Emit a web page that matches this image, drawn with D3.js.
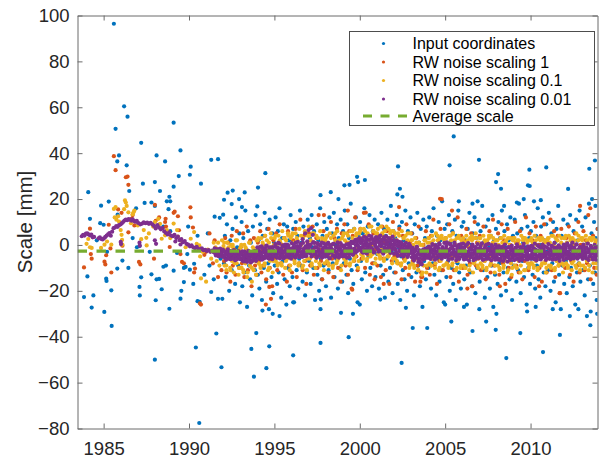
<!DOCTYPE html>
<html>
<head>
<meta charset="utf-8">
<script src="https://cdn.jsdelivr.net/npm/d3@7"></script>
<style>
body { margin: 0; background: #fff; }
text { font-family: "Liberation Sans", Arial, Helvetica, sans-serif; }
</style>
</head>
<body>
<svg id="chart" width="604" height="459"></svg>
<script>
// [decimal year, scale in mm]
var inputCoordinates = [
[1983.85,-22.7],[1984.05,-13.7],[1984.1,23],[1984.2,11.4],[1984.3,-27.3],[1984.4,-22],[1984.6,2],[1984.8,9.5],[1984.85,17.1],[1985.0,8.8],
[1985.04,-29.2],[1985.15,-14.7],[1985.17,-15.7],[1985.2,-3],[1985.3,18.9],[1985.45,-19.8],[1985.47,-35.3],[1985.6,96.4],[1985.7,50.6],[1985.8,36.4],
[1985.8,-10.3],[1985.82,13.2],[1985.9,39],[1986.1,-6.8],[1986.2,60.4],[1986.35,34.7],[1986.4,55.9],[1986.45,-10],[1986.5,23.5],[1986.7,3],
[1986.9,16],[1986.95,-1],[1987.1,-0.5],[1987.1,-18.3],[1987.12,-22],[1987.2,-14.1],[1987.2,44.5],[1987.3,26.7],[1987.4,18.3],[1987.7,-3],
[1987.8,18.5],[1987.8,-12.8],[1988.0,27.4],[1988.0,17],[1988.0,-50],[1988.05,-24.1],[1988.1,39],[1988.1,-15],[1988.25,-14.8],[1988.3,23.5],
[1988.4,-19.3],[1988.5,-9.5],[1988.5,8],[1988.6,36.4],[1988.65,-9],[1988.7,19],[1988.8,15.6],[1988.85,21],[1988.85,-27.8],[1988.9,19],
[1988.9,6],[1989.1,53.3],[1989.1,25.4],[1989.1,-11.2],[1989.3,-3.5],[1989.4,30],[1989.5,41.2],[1989.5,-23.4],[1989.55,-20],[1989.7,-16.2],
[1989.7,-10],[1989.8,-9.6],[1989.9,-4],[1989.95,8],[1990.05,30.6],[1990.05,-10.8],[1990.1,34.1],[1990.25,-17],[1990.3,-8.2],[1990.4,-44.7],
[1990.5,-24.5],[1990.5,4],[1990.6,-77.6],[1990.62,-24.8],[1990.7,26.7],[1990.8,-2],[1990.9,-13],[1991.1,5],[1991.2,-9],[1991.3,37.1],
[1991.3,-20.5],[1991.45,-15],[1991.5,12.3],[1991.6,-38.6],[1991.7,37.4],[1991.7,-23.5],[1991.8,11.8],[1991.85,-6],[1991.9,-53.3],[1991.95,-23.5],
[1992.0,13.2],[1992.05,19.7],[1992.26,22.8],[1992.5,17.8],[1992.56,23.7],[1992.93,20],[1993.1,16.5],[1993.26,22.9],[1993.65,-45.3],[1993.8,-57.4],
[1993.94,-38.4],[1994.0,16.8],[1994.04,25],
[1992.05,-8],[1992.1,4],[1992.15,-14],[1992.22,9],[1992.3,-3],[1992.35,-20],[1992.42,2],[1992.5,-11],[1992.55,7],[1992.62,-5],[1992.7,-17],[1992.75,12],[1992.82,-1],[1992.88,-9],[1992.95,5],[1992.98,-25],
[1993.02,-6],[1993.08,10],[1993.12,-18],[1993.18,3],[1993.24,-12],[1993.3,15],[1993.36,-2],[1993.4,-27],[1993.46,6],[1993.52,-9],[1993.58,-15],[1993.62,1],[1993.7,-22],[1993.74,8],[1993.8,-4],[1993.86,-11],[1993.9,13],[1993.96,-7],
[1994.03,-13],[1994.07,2],[1994.12,-19],[1994.17,9],[1994.22,-5],[1994.27,-24],[1994.32,4],[1994.38,-10],[1994.43,14],[1994.48,-1],[1994.52,-16],[1994.58,7],[1994.63,-8],[1994.68,-28],[1994.72,11],[1994.78,-3],[1994.83,-14],[1994.88,5],[1994.93,-21],[1994.97,1],
[1995.02,-9],[1995.07,12],[1995.11,-4],[1995.16,-17],[1995.2,6],[1995.25,-12],[1995.3,16],[1995.35,-2],[1995.4,-23],[1995.45,3],[1995.5,-7],[1995.55,9],[1995.6,-15],[1995.65,-1],[1995.7,-26],[1995.75,8],[1995.8,-10],[1995.85,2],[1995.9,-18],[1995.95,13],
[1996.02,-5],[1996.06,-14],[1996.1,7],[1996.15,-25],[1996.2,-2],[1996.25,10],[1996.3,-11],[1996.35,4],[1996.4,-19],[1996.45,-6],[1996.5,15],[1996.55,-9],[1996.6,1],[1996.65,-16],[1996.7,8],[1996.75,-3],[1996.8,-22],[1996.85,5],[1996.9,-12],[1996.95,11],
[1997.03,-7],[1997.08,3],[1997.12,-17],[1997.18,13],[1997.22,-1],[1997.28,-10],[1997.32,6],[1997.38,-24],[1997.42,-4],[1997.48,9],[1997.52,-13],[1997.58,2],[1997.62,-20],[1997.68,16],[1997.72,-6],[1997.78,-15],[1997.82,4],[1997.88,-9],[1997.92,10],[1997.97,-2],
[1998.02,-18],[1998.07,7],[1998.12,-5],[1998.17,-11],[1998.22,12],[1998.28,-1],[1998.32,-23],[1998.38,5],[1998.42,-8],[1998.48,14],[1998.52,-14],[1998.57,0],[1998.62,-6],[1998.67,9],[1998.72,-19],[1998.77,3],[1998.82,-10],[1998.88,11],[1998.92,-3],[1998.97,-16],
[1999.02,6],[1999.07,-8],[1999.12,15],[1999.17,-2],[1999.22,-13],[1999.27,9],[1999.32,-21],[1999.37,3],[1999.42,-6],[1999.47,18],[1999.52,-11],[1999.57,1],[1999.62,-17],[1999.67,7],[1999.72,-4],[1999.77,12],[1999.82,-9],[1999.87,-25],[1999.92,4],[1999.97,-1],
[2000.02,10],[2000.07,-7],[2000.12,-15],[2000.17,5],[2000.22,-3],[2000.27,16],[2000.32,-12],[2000.37,1],[2000.42,-20],[2000.47,8],[2000.52,-5],[2000.57,13],[2000.62,-10],[2000.67,-1],[2000.72,-18],[2000.77,6],[2000.82,-8],[2000.87,11],[2000.92,-14],[2000.97,3],
[2001.02,-4],[2001.07,9],[2001.12,-19],[2001.17,2],[2001.22,-9],[2001.27,14],[2001.32,-1],[2001.37,-13],[2001.42,7],[2001.47,-23],[2001.52,4],[2001.57,-6],[2001.62,11],[2001.67,-16],[2001.72,0],[2001.77,-10],[2001.82,17],[2001.87,-3],[2001.92,-21],[2001.97,6],
[2002.02,-12],[2002.07,3],[2002.12,-7],[2002.17,13],[2002.22,-17],[2002.27,-1],[2002.32,8],[2002.37,-24],[2002.42,-5],[2002.47,10],[2002.52,-11],[2002.57,2],[2002.62,-15],[2002.67,15],[2002.72,-3],[2002.77,-20],[2002.82,6],[2002.87,-8],[2002.92,-1],[2002.97,12],
[2003.02,-14],[2003.07,5],[2003.12,-6],[2003.17,-22],[2003.22,9],[2003.27,-2],[2003.32,-12],[2003.37,14],[2003.42,-9],[2003.47,1],[2003.52,-18],[2003.57,7],[2003.62,-4],[2003.67,-27],[2003.72,11],[2003.77,-7],[2003.82,3],[2003.87,-15],[2003.92,8],[2003.97,-1],
[2004.02,-10],[2004.07,12],[2004.12,-3],[2004.17,-19],[2004.22,6],[2004.27,-8],[2004.32,16],[2004.37,-13],[2004.42,0],[2004.47,-22],[2004.52,4],[2004.57,-6],[2004.62,10],[2004.67,-16],[2004.72,2],[2004.77,-11],[2004.82,19],[2004.87,-4],[2004.92,-25],[2004.97,7],
[2005.02,-2],[2005.07,-14],[2005.12,9],[2005.17,-7],[2005.22,13],[2005.27,-20],[2005.32,1],[2005.37,-10],[2005.42,6],[2005.47,-17],[2005.52,-3],[2005.57,11],[2005.62,-24],[2005.67,4],[2005.72,-8],[2005.77,15],[2005.82,-12],[2005.87,-1],[2005.92,-19],[2005.97,8],
[2006.02,-5],[2006.07,10],[2006.12,-15],[2006.17,2],[2006.22,-9],[2006.27,-26],[2006.32,7],[2006.37,-3],[2006.42,14],[2006.47,-12],[2006.52,0],[2006.57,-18],[2006.62,5],[2006.67,-7],[2006.72,12],[2006.77,-21],[2006.82,3],[2006.87,-10],[2006.92,9],[2006.97,-2],
[2007.02,-16],[2007.07,6],[2007.12,-4],[2007.17,17],[2007.22,-11],[2007.27,1],[2007.32,-23],[2007.37,8],[2007.42,-6],[2007.47,-14],[2007.52,11],[2007.57,-1],[2007.62,-19],[2007.67,4],[2007.72,-9],[2007.77,13],[2007.82,-27],[2007.87,2],[2007.92,-13],[2007.97,7],
[2008.02,-3],[2008.07,-17],[2008.12,10],[2008.17,-8],[2008.22,3],[2008.27,-22],[2008.32,15],[2008.37,-5],[2008.42,-12],[2008.47,6],[2008.52,-1],[2008.57,-20],[2008.62,9],[2008.67,-10],[2008.72,2],[2008.77,-15],[2008.82,12],[2008.87,-7],[2008.92,-24],[2008.97,4],
[2009.02,-9],[2009.07,11],[2009.12,-2],[2009.17,-16],[2009.22,5],[2009.27,-11],[2009.32,18],[2009.37,-4],[2009.42,-21],[2009.47,7],[2009.52,-7],[2009.57,1],[2009.62,-14],[2009.67,13],[2009.72,-1],[2009.77,-26],[2009.82,8],[2009.87,-10],[2009.92,3],[2009.97,-17],
[2010.02,6],[2010.07,-6],[2010.12,-13],[2010.17,10],[2010.22,-2],[2010.27,-19],[2010.32,4],[2010.37,-9],[2010.42,16],[2010.47,-15],[2010.52,0],[2010.57,-23],[2010.62,8],[2010.67,-5],[2010.72,12],[2010.77,-12],[2010.82,2],[2010.87,-18],[2010.92,9],[2010.97,-3],
[2011.02,-11],[2011.07,14],[2011.12,-4],[2011.17,-20],[2011.22,5],[2011.27,-8],[2011.32,10],[2011.37,-16],[2011.42,1],[2011.47,-25],[2011.52,7],[2011.57,-6],[2011.62,17],[2011.67,-13],[2011.72,-1],[2011.77,-28],[2011.82,4],[2011.87,-9],[2011.92,11],[2011.97,-17],
[2012.02,3],[2012.07,-7],[2012.12,-21],[2012.17,9],[2012.22,-3],[2012.27,-14],[2012.32,13],[2012.37,-10],[2012.42,0],[2012.47,-18],[2012.52,6],[2012.57,-5],[2012.62,-26],[2012.67,11],[2012.72,-12],[2012.77,2],[2012.82,-8],[2012.87,15],[2012.92,-16],[2012.97,-1],
[2013.02,8],[2013.07,-11],[2013.12,-4],[2013.17,-22],[2013.22,12],[2013.27,-6],[2013.32,1],[2013.37,-15],[2013.42,18],[2013.47,-9],[2013.52,-29],[2013.57,5],[2013.62,-2],[2013.67,-17],[2013.72,10],[2013.77,-12],[2013.82,3],[2013.87,-24],[2013.92,7],[2013.97,-7],
[1994.47,31.3],[1999.84,29.7],[1999.9,27.4],[2000.3,28.3],[1999.1,26],[1999.4,26.2],[2002.24,34.2],[2002.2,22],[2002.5,21],[2002.35,24.5],
[1997.7,21.7],[1998.3,23],[1998.75,20],[1994.53,-53.7],[1996.1,-48.1],[1997.7,-42.7],[1994.7,-44.2],[1999.35,-40.2],[2002.45,-51.4],[2003.1,-36.2],
[2003.95,-36.2],[1994.3,-28.6],[1994.9,-30],[1995.3,-31],[1998.9,-29.6],[1999.6,-30],[2000.0,-26],[1997.7,-28],[1997.72,-23.7],[2001.2,-23.8],
[2002.7,-27.4],[1996.1,-25],[2005.5,47.3],[2005.26,34.7],[2006.98,37.1],[2008.1,30.9],[2007.98,27.4],[2008.27,24.5],[2009.93,32.8],[2009.85,26],
[2009.95,25.7],[2010.92,33.8],[2012.2,24.4],[2013.44,33.2],[2013.77,36.8],[2013.6,20],[2013.8,17],[2005.8,19],[2006.6,18],[2006.9,19],
[2008.45,17],[2009.2,18.5],[2009.6,20],[2010.2,19],[2010.6,19.5],[2005.36,-33.4],[2006.6,-37.5],[2007.4,-33.4],[2007.96,-37],[2008.58,-49.3],
[2009.4,-38.4],[2010.73,-46.7],[2011.72,-39.2],[2013.3,-31],[2013.5,-35],[2013.9,-30],[2006.1,-27],[2007.0,-28],[2008.0,-30],[2009.8,-29],
[2010.3,-27],[2011.3,-28],[2012.3,-31],[2012.8,-28],[2005.0,-26]
];

var rwScaling1 = [
[1983.85,-9.8],[1984.2,7.1],[1984.25,-4],[1984.3,-6],[1985.05,-7.3],[1985.1,-8.5],[1985.15,-4.5],[1985.3,8.8],[1985.4,-1.5],[1985.45,-12],
[1985.6,38.7],[1985.7,32.6],[1985.85,15.5],[1986.05,14],[1986.05,0.2],[1986.1,-0.3],[1986.3,29.5],[1986.4,29.8],[1986.45,26.2],[1986.45,5.5],
[1986.65,11.5],[1986.7,13],[1986.8,8.5],[1987.07,-7.4],[1987.15,-8.5],[1987.95,-6],[1988.0,17.5],[1988.05,10.5],[1988.25,12],[1988.6,10],
[1988.63,11.4],[1988.65,8],[1988.87,-0.9],[1989.1,14],[1989.16,14.5],[1989.35,12.5],[1989.41,6.4],[1989.5,-4],[1989.59,-7.4],[1989.7,-8],
[1990.08,16.4],[1990.1,12],[1990.23,7.6],[1990.3,-12],[1990.35,-10.3],[1990.64,-25.5],[1990.7,-26],[1990.9,-4.3],[1991.0,-3],[1991.2,5],
[1991.4,-8],[1991.5,2],[1991.7,-14],[1991.9,-11],
[1992.05,-7],[1992.12,3],[1992.2,-12],[1992.28,1],[1992.35,-5],[1992.42,-16],[1992.5,4],[1992.57,-9],[1992.65,-2],[1992.72,-13],[1992.8,6],[1992.87,-4],[1992.94,-10],
[1993.03,-1],[1993.1,-8],[1993.17,5],[1993.24,-14],[1993.31,-3],[1993.38,8],[1993.45,-11],[1993.52,-6],[1993.59,2],[1993.66,-18],[1993.73,-4],[1993.8,3],[1993.87,-9],[1993.94,-13],
[1994.03,1],[1994.1,-7],[1994.17,6],[1994.24,-12],[1994.31,-2],[1994.38,-9],[1994.45,4],[1994.52,-15],[1994.59,-5],[1994.66,7],[1994.73,-10],[1994.8,-1],[1994.87,-18],[1994.94,2],
[1995.03,-6],[1995.1,5],[1995.17,-11],[1995.24,-3],[1995.31,9],[1995.38,-8],[1995.45,0],[1995.52,-13],[1995.59,3],[1995.66,-5],[1995.73,-16],[1995.8,6],[1995.87,-9],[1995.94,-2],
[1996.03,-12],[1996.1,2],[1996.17,-6],[1996.24,7],[1996.31,-14],[1996.38,-1],[1996.45,-8],[1996.52,11],[1996.59,-4],[1996.66,-11],[1996.73,4],[1996.8,-7],[1996.87,-17],[1996.94,1],
[1997.03,5],[1997.1,-9],[1997.17,-3],[1997.24,8],[1997.31,-13],[1997.38,-5],[1997.45,3],[1997.52,-10],[1997.59,13],[1997.66,-2],[1997.73,-7],[1997.8,-15],[1997.87,6],[1997.94,-4],
[1998.03,-8],[1998.1,4],[1998.17,-12],[1998.24,0],[1998.31,10],[1998.38,-6],[1998.45,-14],[1998.52,3],[1998.59,-3],[1998.66,7],[1998.73,-10],[1998.8,-1],[1998.87,-16],[1998.94,5],
[1999.03,-4],[1999.1,9],[1999.17,-9],[1999.24,1],[1999.31,-13],[1999.38,6],[1999.45,-2],[1999.52,-19],[1999.59,4],[1999.66,-7],[1999.73,12],[1999.8,-5],[1999.87,-11],[1999.94,2],
[2000.03,7],[2000.1,-6],[2000.17,-1],[2000.24,14],[2000.31,-10],[2000.38,3],[2000.45,-4],[2000.52,9],[2000.59,-13],[2000.66,0],[2000.73,-8],[2000.8,5],[2000.87,-15],[2000.94,-2],
[2001.03,-9],[2001.1,4],[2001.17,-3],[2001.24,-14],[2001.31,8],[2001.38,-6],[2001.45,1],[2001.52,-11],[2001.59,6],[2001.66,-2],[2001.73,-17],[2001.8,3],[2001.87,-7],[2001.94,10],
[2002.03,-5],[2002.1,-12],[2002.17,2],[2002.24,-8],[2002.31,7],[2002.38,-1],[2002.45,-15],[2002.52,4],[2002.59,-6],[2002.66,-10],[2002.73,9],[2002.8,-3],[2002.87,-13],[2002.94,1],
[2003.03,5],[2003.1,-7],[2003.17,-2],[2003.24,-16],[2003.31,3],[2003.38,-9],[2003.45,8],[2003.52,-4],[2003.59,-12],[2003.66,-14],[2003.73,0],[2003.8,-6],[2003.87,6],[2003.94,-10],
[2004.03,-1],[2004.1,-13],[2004.17,4],[2004.24,-6],[2004.31,11],[2004.38,-9],[2004.45,-3],[2004.52,-17],[2004.59,2],[2004.66,-7],[2004.73,7],[2004.8,20],[2004.87,-11],[2004.94,-4],
[2005.03,3],[2005.1,-8],[2005.17,-2],[2005.24,9],[2005.31,-14],[2005.38,-5],[2005.45,5],[2005.52,-11],[2005.59,0],[2005.66,-7],[2005.73,12],[2005.8,-16],[2005.87,-3],[2005.94,4],
[2006.03,-10],[2006.1,2],[2006.17,-5],[2006.24,7],[2006.31,-13],[2006.38,-1],[2006.45,-8],[2006.52,5],[2006.59,-18],[2006.66,-4],[2006.73,10],[2006.8,-9],[2006.87,1],[2006.94,-6],
[2007.03,4],[2007.1,-11],[2007.17,-3],[2007.24,8],[2007.31,-7],[2007.38,-15],[2007.45,1],[2007.52,-5],[2007.59,6],[2007.66,-12],[2007.73,-2],[2007.8,11],[2007.87,-9],[2007.94,-4],
[2008.03,-6],[2008.1,5],[2008.17,-13],[2008.24,-1],[2008.31,9],[2008.38,-8],[2008.45,2],[2008.52,-17],[2008.59,-4],[2008.66,7],[2008.73,-10],[2008.8,0],[2008.87,-14],[2008.94,3],
[2009.03,-3],[2009.1,10],[2009.17,-9],[2009.24,1],[2009.31,-12],[2009.38,6],[2009.45,-5],[2009.52,-15],[2009.59,3],[2009.66,-7],[2009.73,12],[2009.8,-2],[2009.87,-11],[2009.94,5],
[2010.03,-8],[2010.1,2],[2010.17,-4],[2010.24,-14],[2010.31,8],[2010.38,-6],[2010.45,0],[2010.52,-10],[2010.59,4],[2010.66,-16],[2010.73,-2],[2010.8,9],[2010.87,-7],[2010.94,-12],
[2011.03,1],[2011.1,-6],[2011.17,11],[2011.24,-11],[2011.31,-3],[2011.38,6],[2011.45,-14],[2011.52,-1],[2011.59,4],[2011.66,-9],[2011.73,-21],[2011.8,7],[2011.87,-5],[2011.94,-2],
[2012.03,-10],[2012.1,3],[2012.17,-4],[2012.24,8],[2012.31,-13],[2012.38,-7],[2012.45,1],[2012.52,-16],[2012.59,5],[2012.66,-3],[2012.73,-9],[2012.8,10],[2012.87,-12],[2012.94,0],
[2013.03,-5],[2013.1,6],[2013.17,-11],[2013.24,2],[2013.31,-8],[2013.38,13],[2013.45,-3],[2013.52,-15],[2013.59,-6],[2013.66,4],[2013.73,-10],[2013.8,-1],[2013.87,-13],[2013.94,7],
[2000.35,14.1],[1997.9,13],[1999.3,15],[2002.3,16.5],[2004.7,20.1],[2005.4,15],[2012.9,17],[2013.5,16],[1994.7,-18.3],[1994.5,-26],
[1994.8,-23.5],[1999.56,-19.5],[2003.6,-14],[2003.55,-16],[2011.7,-21],[2008.2,-18],[2001.4,-17],[2006.3,-19],[2010.5,-18]
];

var rwScaling01 = [
[1984.0,0.5],[1984.1,2.6],[1984.2,-1],[1984.3,-1.3],[1984.85,-1.3],[1985.05,0.1],[1985.2,1.5],[1985.45,0.1],[1985.6,15.7],[1985.65,12],
[1985.7,16.5],[1985.75,11],[1985.85,12.5],[1985.9,10.2],[1986.0,6.5],[1986.05,4.4],[1986.08,2.2],[1986.1,0.1],[1986.2,15.6],[1986.25,19.4],
[1986.3,18.5],[1986.35,17],[1986.45,14.2],[1986.6,9.5],[1986.7,13.4],[1986.75,14.2],[1986.8,15],[1987.0,8.5],[1987.2,2.5],[1987.35,6.5],
[1987.5,3.1],[1987.52,-0.2],[1987.65,5],[1987.9,8],[1988.0,10],[1988.2,11.4],[1988.3,9.2],[1988.4,2.7],[1988.6,4.2],[1988.7,6.5],
[1988.9,3],[1989.1,9.3],[1989.3,6.5],[1989.35,3.6],[1989.6,1.5],[1989.8,-1],[1990.1,2.7],[1990.3,5.6],[1990.45,0.5],[1990.6,-0.2],
[1990.65,-5],[1990.7,-14.6],[1990.8,-3],[1991.0,-16],[1991.1,-2],[1991.3,-6],[1991.45,1],
[1991.55,-1],[1991.62,-7],[1991.7,1],[1991.78,-9],[1991.85,-4],[1991.93,2],
[1992.02,-0.5],[1992.08,-9],[1992.13,-2],[1992.19,-11],[1992.24,1],[1992.3,-6],[1992.35,-3],[1992.41,-10],[1992.46,0],[1992.52,-7],[1992.57,-1],[1992.63,-12],[1992.68,-4],[1992.74,2],[1992.79,-8],[1992.85,-5],[1992.9,-13],[1992.96,-2],
[1993.02,-1],[1993.08,-10],[1993.13,-3],[1993.19,-12],[1993.24,0],[1993.3,-8],[1993.35,-2],[1993.41,-14],[1993.46,-6],[1993.52,1],[1993.57,-9],[1993.63,-4],[1993.68,-16],[1993.74,-1],[1993.79,-11],[1993.85,-3],[1993.9,-7],[1993.96,2],
[1994.02,2],[1994.08,-8],[1994.13,-1],[1994.19,-10],[1994.24,3],[1994.3,-6],[1994.35,0],[1994.41,-9],[1994.46,4],[1994.52,-5],[1994.57,-2],[1994.63,-11],[1994.68,1],[1994.74,-7],[1994.79,5],[1994.85,-4],[1994.9,-12],[1994.96,0],
[1995.02,3],[1995.08,-7],[1995.13,0],[1995.19,-9],[1995.24,4],[1995.3,-5],[1995.35,1],[1995.41,-8],[1995.46,6],[1995.52,-4],[1995.57,-1],[1995.63,-10],[1995.68,2],[1995.74,-6],[1995.79,5],[1995.85,-3],[1995.9,-11],[1995.96,3],
[1996.02,4],[1996.08,-6],[1996.13,1],[1996.19,-8],[1996.24,5],[1996.3,-4],[1996.35,2],[1996.41,-9],[1996.46,7],[1996.52,-3],[1996.57,0],[1996.63,-10],[1996.68,3],[1996.74,-7],[1996.79,6],[1996.85,-2],[1996.9,-11],[1996.96,4],
[1997.02,8],[1997.08,-6],[1997.13,2],[1997.19,-9],[1997.24,5],[1997.3,-4],[1997.35,1],[1997.41,-10],[1997.46,4],[1997.52,-3],[1997.57,0],[1997.63,-8],[1997.68,6],[1997.74,-5],[1997.79,3],[1997.85,-2],[1997.9,-11],[1997.96,2],
[1998.02,3],[1998.08,-7],[1998.13,1],[1998.19,-9],[1998.24,5],[1998.3,-5],[1998.35,0],[1998.41,-10],[1998.46,4],[1998.52,-4],[1998.57,2],[1998.63,-8],[1998.68,6],[1998.74,-6],[1998.79,1],[1998.85,-3],[1998.9,-11],[1998.96,3],
[1999.02,4],[1999.08,-6],[1999.13,2],[1999.19,-8],[1999.24,5],[1999.3,-4],[1999.35,1],[1999.41,-9],[1999.46,6],[1999.52,-3],[1999.57,3],[1999.63,-7],[1999.68,7],[1999.74,-5],[1999.79,4],[1999.85,-1],[1999.9,-10],[1999.96,5],
[2000.02,6],[2000.08,-4],[2000.13,3],[2000.19,-6],[2000.24,7],[2000.3,-2],[2000.35,4],[2000.41,-7],[2000.46,5],[2000.52,-3],[2000.57,2],[2000.63,-5],[2000.68,8],[2000.74,-4],[2000.79,6],[2000.85,0],[2000.9,-8],[2000.96,5],
[2001.02,5],[2001.08,-4],[2001.13,3],[2001.19,-6],[2001.24,8],[2001.3,-2],[2001.35,4],[2001.41,-7],[2001.46,6],[2001.52,-3],[2001.57,2],[2001.63,-5],[2001.68,7],[2001.74,-4],[2001.79,5],[2001.85,-1],[2001.9,-8],[2001.96,6],
[2002.02,4],[2002.08,-6],[2002.13,2],[2002.19,-8],[2002.24,5],[2002.3,-4],[2002.35,1],[2002.41,-9],[2002.46,6],[2002.52,-3],[2002.57,3],[2002.63,-7],[2002.68,4],[2002.74,-5],[2002.79,2],[2002.85,-2],[2002.9,-10],[2002.96,5],
[2003.02,2],[2003.08,-8],[2003.13,0],[2003.19,-10],[2003.24,3],[2003.3,-6],[2003.35,-1],[2003.41,-11],[2003.46,1],[2003.52,-7],[2003.57,-3],[2003.63,-13],[2003.68,0],[2003.74,-9],[2003.79,2],[2003.85,-5],[2003.9,-12],[2003.96,1],
[2004.02,3],[2004.08,-8],[2004.13,1],[2004.19,-9],[2004.24,4],[2004.3,-6],[2004.35,0],[2004.41,-10],[2004.46,5],[2004.52,-5],[2004.57,2],[2004.63,-11],[2004.68,3],[2004.74,-7],[2004.79,4],[2004.85,-3],[2004.9,-9],[2004.96,2],
[2005.02,3],[2005.08,-8],[2005.13,1],[2005.19,-10],[2005.24,4],[2005.3,-6],[2005.35,2],[2005.41,-9],[2005.46,5],[2005.52,-5],[2005.57,0],[2005.63,-11],[2005.68,3],[2005.74,-7],[2005.79,4],[2005.85,-3],[2005.9,-10],[2005.96,2],
[2006.02,2],[2006.08,-9],[2006.13,1],[2006.19,-10],[2006.24,4],[2006.3,-6],[2006.35,0],[2006.41,-11],[2006.46,3],[2006.52,-5],[2006.57,2],[2006.63,-12],[2006.68,3],[2006.74,-7],[2006.79,5],[2006.85,-4],[2006.9,-9],[2006.96,1],
[2007.02,3],[2007.08,-8],[2007.13,0],[2007.19,-10],[2007.24,4],[2007.3,-7],[2007.35,1],[2007.41,-11],[2007.46,2],[2007.52,-6],[2007.57,3],[2007.63,-9],[2007.68,4],[2007.74,-5],[2007.79,1],[2007.85,-4],[2007.9,-12],[2007.96,2],
[2008.02,2],[2008.08,-9],[2008.13,0],[2008.19,-11],[2008.24,3],[2008.3,-6],[2008.35,1],[2008.41,-10],[2008.46,4],[2008.52,-7],[2008.57,2],[2008.63,-12],[2008.68,3],[2008.74,-5],[2008.79,0],[2008.85,-8],[2008.9,-13],[2008.96,2],
[2009.02,3],[2009.08,-9],[2009.13,1],[2009.19,-10],[2009.24,2],[2009.3,-7],[2009.35,0],[2009.41,-12],[2009.46,4],[2009.52,-6],[2009.57,2],[2009.63,-11],[2009.68,3],[2009.74,-5],[2009.79,1],[2009.85,-8],[2009.9,-10],[2009.96,2],
[2010.02,2],[2010.08,-8],[2010.13,1],[2010.19,-10],[2010.24,4],[2010.3,-7],[2010.35,0],[2010.41,-11],[2010.46,3],[2010.52,-6],[2010.57,2],[2010.63,-9],[2010.68,3],[2010.74,-5],[2010.79,1],[2010.85,-8],[2010.9,-12],[2010.96,2],
[2011.02,3],[2011.08,-9],[2011.13,1],[2011.19,-10],[2011.24,4],[2011.3,-6],[2011.35,0],[2011.41,-11],[2011.46,3],[2011.52,-7],[2011.57,2],[2011.63,-9],[2011.68,4],[2011.74,-5],[2011.79,1],[2011.85,-8],[2011.9,-12],[2011.96,3],
[2012.02,3],[2012.08,-8],[2012.13,1],[2012.19,-10],[2012.24,4],[2012.3,-6],[2012.35,2],[2012.41,-11],[2012.46,3],[2012.52,-7],[2012.57,0],[2012.63,-9],[2012.68,5],[2012.74,-5],[2012.79,2],[2012.85,-8],[2012.9,-11],[2012.96,3],
[2013.02,2],[2013.08,-9],[2013.13,0],[2013.19,-10],[2013.24,4],[2013.3,-7],[2013.35,1],[2013.41,-11],[2013.46,3],[2013.52,-6],[2013.57,2],[2013.63,-12],[2013.68,3],[2013.74,-5],[2013.79,1],[2013.85,-8],[2013.9,-10],[2013.96,2],
[1992.06,1],[1992.18,-9],[1992.31,-1],[1992.43,-11],[1992.56,0],[1992.68,-8],[1992.81,2],[1992.93,-10],
[1993.06,0],[1993.18,-11],[1993.31,-1],[1993.43,-12],[1993.56,1],[1993.68,-10],[1993.81,-2],[1993.93,-13],
[1994.06,3],[1994.18,-9],[1994.31,1],[1994.43,-8],[1994.56,2],[1994.68,-10],[1994.81,3],[1994.93,-7],
[1995.06,4],[1995.18,-8],[1995.31,2],[1995.43,-9],[1995.56,3],[1995.68,-7],[1995.81,4],[1995.93,-9],
[1996.06,5],[1996.18,-7],[1996.31,3],[1996.43,-8],[1996.56,4],[1996.68,-9],[1996.81,5],[1996.93,-6],
[1997.06,4],[1997.18,-8],[1997.31,5],[1997.43,-7],[1997.56,3],[1997.68,-9],[1997.81,2],[1997.93,-8],
[1998.06,4],[1998.18,-8],[1998.31,3],[1998.43,-9],[1998.56,5],[1998.68,-7],[1998.81,2],[1998.93,-9],
[1999.06,5],[1999.18,-7],[1999.31,4],[1999.43,-8],[1999.56,6],[1999.68,-6],[1999.81,5],[1999.93,-7],
[2000.06,7],[2000.18,-5],[2000.31,6],[2000.43,-6],[2000.56,8],[2000.68,-4],[2000.81,6],[2000.93,-6],
[2001.06,7],[2001.18,-5],[2001.31,5],[2001.43,-6],[2001.56,8],[2001.68,-5],[2001.81,6],[2001.93,-6],
[2002.06,5],[2002.18,-7],[2002.31,4],[2002.43,-8],[2002.56,3],[2002.68,-6],[2002.81,5],[2002.93,-9],
[2003.06,2],[2003.18,-9],[2003.31,1],[2003.43,-11],[2003.56,0],[2003.68,-12],[2003.81,2],[2003.93,-9],
[2004.06,3],[2004.18,-9],[2004.31,2],[2004.43,-8],[2004.56,4],[2004.68,-10],[2004.81,3],[2004.93,-9],
[2005.06,3],[2005.18,-9],[2005.31,4],[2005.43,-8],[2005.56,2],[2005.68,-10],[2005.81,3],[2005.93,-9],
[2006.06,3],[2006.18,-10],[2006.31,2],[2006.43,-9],[2006.56,4],[2006.68,-8],[2006.81,3],[2006.93,-10],
[2007.06,3],[2007.18,-9],[2007.31,2],[2007.43,-10],[2007.56,4],[2007.68,-8],[2007.81,3],[2007.93,-9],
[2008.06,2],[2008.18,-10],[2008.31,3],[2008.43,-9],[2008.56,1],[2008.68,-11],[2008.81,3],[2008.93,-10],
[2009.06,3],[2009.18,-10],[2009.31,2],[2009.43,-9],[2009.56,3],[2009.68,-11],[2009.81,2],[2009.93,-9],
[2010.06,3],[2010.18,-9],[2010.31,2],[2010.43,-10],[2010.56,3],[2010.68,-8],[2010.81,2],[2010.93,-10],
[2011.06,3],[2011.18,-9],[2011.31,4],[2011.43,-10],[2011.56,2],[2011.68,-8],[2011.81,3],[2011.93,-9],
[2012.06,4],[2012.18,-9],[2012.31,3],[2012.43,-8],[2012.56,2],[2012.68,-10],[2012.81,4],[2012.93,-9],
[2013.06,3],[2013.18,-10],[2013.31,2],[2013.43,-9],[2013.56,3],[2013.68,-8],[2013.81,2],[2013.93,-10]
];

var rwScaling001 = [
[1983.72,3.8],[1983.8,4.4],[1983.88,4.1],[1983.96,4.9],[1984.04,5],[1984.12,4.6],[1984.2,4.2],[1984.28,4.5],[1984.36,3.3],[1984.44,3.5],
[1984.7,2.9],[1984.78,3.3],[1984.86,2.6],[1984.94,2.4],[1985.02,2.9],[1985.1,3.5],[1985.18,4.1],[1985.26,4.6],[1985.34,5.2],[1985.42,4],
[1985.5,5.8],[1985.58,7.3],[1985.66,7.6],[1985.74,8.2],[1985.82,7.9],[1985.9,8.6],[1985.98,8.9],[1986.0,1.3],[1986.02,0.4],[1986.06,9.4],
[1986.14,10],[1986.22,10.6],[1986.3,11.1],[1986.38,10.8],[1986.46,11.3],[1986.54,11],[1986.62,10.6],[1986.7,11.2],[1986.78,10.4],[1986.86,10.1],
[1986.94,10.5],[1987.02,9.6],[1987.1,1],[1987.12,-0.3],[1987.15,9],[1987.25,9.3],[1987.35,9.8],[1987.45,9.5],[1987.55,9.7],[1987.65,9.2],
[1987.75,9.6],[1987.85,9],[1987.95,8.3],[1988.0,2],[1988.05,7.2],[1988.07,0.5],[1988.15,8.6],[1988.25,7.6],[1988.35,6.8],[1988.45,7.3],
[1988.55,5.9],[1988.65,5.2],[1988.75,4.6],[1988.85,5.5],[1988.95,4.1],[1989.05,3.8],[1989.15,4.4],[1989.2,1.5],[1989.25,3],[1989.35,3.6],
[1989.45,2.1],[1989.5,0.2],[1989.55,2.6],[1989.65,1.2],[1989.75,1.7],[1989.85,0.5],[1989.95,0.1],[1990.05,-0.6],[1990.15,-0.2],[1990.25,-1],
[1990.35,-1.4],[1990.45,-0.8],[1990.55,-1.7],[1990.65,-2],[1990.75,-1.5],[1990.85,-2.3],[1990.95,-2.1],[1991.05,-2.6],[1991.15,-2.2],[1991.25,-3],
[1991.35,-2.5],[1991.45,-3.2],
[1991.5,-1.5],[1991.55,-3.8],[1991.6,-2.2],[1991.65,-4.1],[1991.7,-2.6],[1991.75,-1.9],[1991.8,-3.5],[1991.85,-4.4],[1991.9,-2.3],[1991.95,-3.1],
[1992.0,-2.4],[1992.05,-4.6],[1992.1,-3],[1992.15,-5.8],[1992.2,-3.7],[1992.25,-2.5],[1992.3,-5.1],[1992.35,-4],[1992.4,-6.2],[1992.45,-3.3],[1992.5,-4.9],[1992.55,-2.8],[1992.6,-5.6],[1992.65,-4.2],[1992.7,-6.7],[1992.75,-3.6],[1992.8,-5.3],[1992.85,-4.4],[1992.9,-6],[1992.95,-3.1],
[1993.0,-3.5],[1993.05,-5.9],[1993.1,-4.1],[1993.15,-7],[1993.2,-4.8],[1993.25,-2.9],[1993.3,-6.3],[1993.35,-5.2],[1993.4,-7.4],[1993.45,-3.8],[1993.5,-5.5],[1993.55,-3.2],[1993.6,-6.6],[1993.65,-4.6],[1993.7,-7.1],[1993.75,-3.9],[1993.8,-5.7],[1993.85,-2.7],[1993.9,-6],[1993.95,-4.3],
[1994.0,-1],[1994.05,-4.8],[1994.1,-2.4],[1994.15,-6.1],[1994.2,-3.3],[1994.25,-0.6],[1994.3,-5.2],[1994.35,-2.9],[1994.4,-5.9],[1994.45,-1.7],[1994.5,-3.8],[1994.55,-0.4],[1994.6,-4.9],[1994.65,-2.2],[1994.7,-6],[1994.75,-1.3],[1994.8,-3.6],[1994.85,-5.4],[1994.9,-0.9],[1994.95,-3],
[1995.0,-4.7],[1995.05,0.4],[1995.1,-2.9],[1995.15,-5.6],[1995.2,-1.2],[1995.25,-3.8],[1995.3,0.6],[1995.35,-5.1],[1995.4,-2],[1995.45,-4.3],[1995.5,-0.3],[1995.55,-5.8],[1995.6,-2.6],[1995.65,-1],[1995.7,-4.5],[1995.75,0.2],[1995.8,-3.3],[1995.85,-5.4],[1995.9,-1.6],[1995.95,-3.9],
[1996.0,0.8],[1996.05,-3.6],[1996.1,-1.1],[1996.15,-5],[1996.2,-2.2],[1996.25,1],[1996.3,-4.4],[1996.35,-0.5],[1996.4,-3],[1996.45,-5.3],[1996.5,-1.5],[1996.55,0.5],[1996.6,-3.8],[1996.65,2.5],[1996.7,-2.5],[1996.75,-4.9],[1996.8,5],[1996.85,-1.3],[1996.9,-3.4],[1996.95,0.1],
[1997.0,6.5],[1997.05,-2.8],[1997.1,-0.4],[1997.15,7.3],[1997.2,-4.6],[1997.25,4.4],[1997.3,-1.8],[1997.35,0.9],[1997.4,-3.9],[1997.45,-1],[1997.5,-5.2],[1997.55,0.4],[1997.6,-2.7],[1997.65,-4.4],[1997.7,-0.2],[1997.75,-3.2],[1997.8,-5.5],[1997.85,-1.4],[1997.9,0.7],[1997.95,-3.7],
[1998.0,-0.6],[1998.05,-4.8],[1998.1,-2],[1998.15,0.9],[1998.2,-3.6],[1998.25,-5.7],[1998.3,-1.2],[1998.35,-3.1],[1998.4,0.3],[1998.45,-4.5],[1998.5,-2.4],[1998.55,-5.3],[1998.6,-0.8],[1998.65,-3.4],[1998.7,1.1],[1998.75,-2.1],[1998.8,-4.9],[1998.85,-1.6],[1998.9,-3.8],[1998.95,-0.1],
[1999.0,-5],[1999.05,-2.6],[1999.1,-0.3],[1999.15,-4.2],[1999.2,-1.7],[1999.25,-5.6],[1999.3,-2.9],[1999.35,0.5],[1999.4,-3.7],[1999.45,-1.1],[1999.5,1.3],[1999.55,-2.4],[1999.6,-4.3],[1999.65,0.8],[1999.7,-1.6],[1999.75,2.2],[1999.8,-3],[1999.85,0],[1999.9,2.6],[1999.95,-1.9],
[2000.0,3],[2000.05,-1.4],[2000.1,1.5],[2000.15,-3.2],[2000.2,0.2],[2000.25,3.6],[2000.3,-2],[2000.35,1],[2000.4,-3.6],[2000.45,2.3],[2000.5,-0.7],[2000.55,4],[2000.6,-2.6],[2000.65,0.6],[2000.7,2.8],[2000.75,-1.8],[2000.8,1.9],[2000.85,-3.1],[2000.9,0],[2000.95,3.4],
[2001.0,-1.2],[2001.05,2.4],[2001.1,-2.9],[2001.15,0.9],[2001.2,4.1],[2001.25,-0.5],[2001.3,1.8],[2001.35,-3.3],[2001.4,2.9],[2001.45,-1.6],[2001.5,0.4],[2001.55,3.7],[2001.6,-2.4],[2001.65,1.2],[2001.7,-0.9],[2001.75,2.6],[2001.8,-3.5],[2001.85,0.1],[2001.9,-1.9],[2001.95,2],
[2002.0,-3.8],[2002.05,0.8],[2002.1,-2],[2002.15,1.9],[2002.2,-4.1],[2002.25,-0.6],[2002.3,1.4],[2002.35,-2.7],[2002.4,-4.5],[2002.45,0.3],[2002.5,-1.8],[2002.55,-5],[2002.6,-0.2],[2002.65,-3.2],[2002.7,0.9],[2002.75,-2.3],[2002.8,-5.2],[2002.85,-1.1],[2002.9,-3.6],[2002.95,-0.4],
[2003.0,-2.6],[2003.05,-5.4],[2003.1,-1.3],[2003.15,-3.9],[2003.2,-6],[2003.25,-2.1],[2003.3,-4.7],[2003.35,-0.8],[2003.4,-5.8],[2003.45,-3.3],[2003.5,-7.1],[2003.55,-4.2],[2003.6,-8],[2003.65,-2.5],[2003.7,-6.4],[2003.75,-3.7],[2003.8,-5.1],[2003.85,-1.6],[2003.9,-4.4],[2003.95,-2.2],
[2004.0,-5.6],[2004.05,-0.7],[2004.1,-3.5],[2004.15,-6.1],[2004.2,-1.9],[2004.25,0.4],[2004.3,-4.3],[2004.35,-2.5],[2004.4,-6.4],[2004.45,-0.2],[2004.5,-3],[2004.55,-5.2],[2004.6,-1.4],[2004.65,0.7],[2004.7,-4.8],[2004.75,-2.8],[2004.8,-6],[2004.85,-0.9],[2004.9,-3.7],[2004.95,0.9],
[2005.0,-5.3],[2005.05,-1.6],[2005.1,1.1],[2005.15,-4],[2005.2,-6.4],[2005.25,-2.2],[2005.3,0.3],[2005.35,-3.5],[2005.4,-5.9],[2005.45,-0.6],[2005.5,-2.9],[2005.55,1],[2005.6,-4.7],[2005.65,-6.6],[2005.7,-1.8],[2005.75,-3.2],[2005.8,0],[2005.85,-5.4],[2005.9,-2.4],[2005.95,-0.9],
[2006.0,-4.4],[2006.05,0.6],[2006.1,-6.3],[2006.15,-2.7],[2006.2,-0.4],[2006.25,-5],[2006.3,-3.4],[2006.35,0.8],[2006.4,-6.8],[2006.45,-1.5],[2006.5,-4],[2006.55,-2],[2006.6,0.2],[2006.65,-5.7],[2006.7,-3.1],[2006.75,-1],[2006.8,-6.1],[2006.85,-3.8],[2006.9,0.4],[2006.95,-2.6],
[2007.0,-5.2],[2007.05,-1.2],[2007.1,-3.9],[2007.15,0.7],[2007.2,-6.5],[2007.25,-2.3],[2007.3,-4.6],[2007.35,-0.3],[2007.4,-3.3],[2007.45,-6],[2007.5,-1.7],[2007.55,0.5],[2007.6,-4.1],[2007.65,-2.8],[2007.7,-6.7],[2007.75,-0.8],[2007.8,-3.6],[2007.85,-5.4],[2007.9,-1.9],[2007.95,0.1],
[2008.0,-4.8],[2008.05,-2.1],[2008.1,-6.4],[2008.15,-0.5],[2008.2,-3.7],[2008.25,-5.9],[2008.3,-1.4],[2008.35,-4.2],[2008.4,-7],[2008.45,-2.6],[2008.5,0.2],[2008.55,-5.1],[2008.6,-3.2],[2008.65,-7.3],[2008.7,-1.1],[2008.75,-4.5],[2008.8,-6.2],[2008.85,-2.4],[2008.9,-0.3],[2008.95,-5.5],
[2009.0,-3],[2009.05,-6.6],[2009.1,-1.3],[2009.15,-4.4],[2009.2,0.3],[2009.25,-5.7],[2009.3,-2.7],[2009.35,-6.9],[2009.4,-0.9],[2009.45,-3.8],[2009.5,-5.3],[2009.55,-1.8],[2009.6,0.5],[2009.65,-4.6],[2009.7,-2.2],[2009.75,-6.2],[2009.8,-3.5],[2009.85,-0.6],[2009.9,-5],[2009.95,-2],
[2010.0,-6],[2010.05,-0.4],[2010.1,-3.6],[2010.15,-5.5],[2010.2,-1.7],[2010.25,0.6],[2010.3,-4.3],[2010.35,-6.7],[2010.4,-2.5],[2010.45,-4.9],[2010.5,-0.8],[2010.55,-3.3],[2010.6,-6.3],[2010.65,-1.5],[2010.7,0.1],[2010.75,-5.2],[2010.8,-2.9],[2010.85,-4],[2010.9,-6.5],[2010.95,-1],
[2011.0,-3.4],[2011.05,0.4],[2011.1,-5.8],[2011.15,-2],[2011.2,-4.5],[2011.25,-0.7],[2011.3,-6.4],[2011.35,-2.7],[2011.4,0.9],[2011.45,-4.2],[2011.5,-1.4],[2011.55,-5.6],[2011.6,-3.1],[2011.65,-0.2],[2011.7,-6.9],[2011.75,-2.3],[2011.8,-4.7],[2011.85,-1],[2011.9,-5.3],[2011.95,0.2],
[2012.0,-3.8],[2012.05,-1.6],[2012.1,-5.9],[2012.15,0.7],[2012.2,-2.9],[2012.25,-4.6],[2012.3,-0.5],[2012.35,-6.2],[2012.4,-2.1],[2012.45,1],[2012.5,-4],[2012.55,-1.2],[2012.6,-5.4],[2012.65,-3.3],[2012.7,0.3],[2012.75,-6],[2012.8,-2.5],[2012.85,-4.3],[2012.9,-0.9],[2012.95,-5.1],
[2013.0,-2.2],[2013.05,-6.1],[2013.1,0.2],[2013.15,-4],[2013.2,-1.5],[2013.25,-5.7],[2013.3,-3.1],[2013.35,0.6],[2013.4,-6.6],[2013.45,-2.4],[2013.5,-4.8],[2013.55,-0.8],[2013.6,-3.6],[2013.65,-6.3],[2013.7,-1.9],[2013.75,0],[2013.8,-5],[2013.85,-2.8],[2013.9,-4.4],[2013.95,-1.2],
[1991.525,-2.8],[1991.575,-4.6],[1991.625,-1.8],[1991.675,-3.3],[1991.725,-4.9],[1991.775,-2.4],[1991.825,-1.6],[1991.875,-3.9],[1991.925,-5],[1991.975,-2],
[1992.025,-5.2],[1992.075,-2.9],[1992.125,-4.4],[1992.175,-6.5],[1992.225,-3.4],[1992.275,-1.9],[1992.325,-5.5],[1992.375,-4.5],[1992.425,-2.7],[1992.475,-6.1],[1992.525,-3.9],[1992.575,-5.8],[1992.625,-2.2],[1992.675,-4.8],[1992.725,-3.3],[1992.775,-6.3],[1992.825,-4.1],[1992.875,-2.6],[1992.925,-5],[1992.975,-3.7],
[1993.025,-6.2],[1993.075,-4],[1993.125,-2.8],[1993.175,-5.4],[1993.225,-7.2],[1993.275,-4.5],[1993.325,-3.4],[1993.375,-6.8],[1993.425,-5],[1993.475,-2.6],[1993.525,-5.9],[1993.575,-4.2],[1993.625,-7.6],[1993.675,-3.6],[1993.725,-5.2],[1993.775,-6.5],[1993.825,-3],[1993.875,-4.7],[1993.925,-6.9],[1993.975,-4],
[1994.025,-2.1],[1994.075,-5.6],[1994.125,-3.9],[1994.175,-0.8],[1994.225,-4.4],[1994.275,-6.4],[1994.325,-1.5],[1994.375,-3.2],[1994.425,-5],[1994.475,-2.6],[1994.525,-0.3],[1994.575,-4.1],[1994.625,-5.8],[1994.675,-2.9],[1994.725,-1.1],[1994.775,-4.6],[1994.825,-3.5],[1994.875,-6.2],[1994.925,-2.3],[1994.975,-4.9],
[1995.025,-3.1],[1995.075,-0.8],[1995.125,-4.9],[1995.175,-2.2],[1995.225,0.9],[1995.275,-3.6],[1995.325,-5.9],[1995.375,-1.5],[1995.425,-2.8],[1995.475,-4.6],[1995.525,-0.7],[1995.575,-3.3],[1995.625,0.1],[1995.675,-5.2],[1995.725,-1.9],[1995.775,-3.8],[1995.825,-0.4],[1995.875,-4.4],[1995.925,-2.5],[1995.975,-6],
[1996.025,-1.7],[1996.075,-4.2],[1996.125,0.3],[1996.175,-2.9],[1996.225,-5.5],[1996.275,-0.8],[1996.325,-3.5],[1996.375,1.3],[1996.425,-2],[1996.475,-4.6],[1996.525,-0.2],[1996.575,-3.1],[1996.625,-5.2],[1996.675,0.9],[1996.725,-1.6],[1996.775,-3.9],[1996.825,-0.6],[1996.875,-4.8],[1996.925,1.6],[1996.975,-2.6],
[1997.025,-1.2],[1997.075,-3.6],[1997.125,0.2],[1997.175,-5],[1997.225,-2.3],[1997.275,1.2],[1997.325,-4.1],[1997.375,-0.9],[1997.425,-2.9],[1997.475,-5.6],[1997.525,0.8],[1997.575,-1.8],[1997.625,-3.8],[1997.675,-0.3],[1997.725,-4.9],[1997.775,1],[1997.825,-2.5],[1997.875,-4.3],[1997.925,-1],[1997.975,-5.1],
[1998.025,-2.7],[1998.075,0.4],[1998.125,-4.2],[1998.175,-1.5],[1998.225,-5.9],[1998.275,-0.2],[1998.325,-3.3],[1998.375,-1.9],[1998.425,-4.7],[1998.475,0.6],[1998.525,-2.8],[1998.575,-5],[1998.625,-1.1],[1998.675,-3.9],[1998.725,-0.4],[1998.775,-5.5],[1998.825,-2.2],[1998.875,0.8],[1998.925,-4.4],[1998.975,-3],
[1999.025,-3.4],[1999.075,-1],[1999.125,-4.9],[1999.175,-2.1],[1999.225,0.2],[1999.275,-3.7],[1999.325,-1.4],[1999.375,-5.2],[1999.425,-0.6],[1999.475,-2.8],[1999.525,0.7],[1999.575,-4.1],[1999.625,-1.8],[1999.675,1.6],[1999.725,-3.2],[1999.775,-0.2],[1999.825,1.4],[1999.875,-2.5],[1999.925,-0.8],[1999.975,1.8],
[2000.025,0.8],[2000.075,-2.4],[2000.125,2.5],[2000.175,-0.9],[2000.225,-3.4],[2000.275,1.7],[2000.325,-0.3],[2000.375,3.1],[2000.425,-1.5],[2000.475,0.4],[2000.525,-2.8],[2000.575,2.2],[2000.625,-1],[2000.675,3.8],[2000.725,-2.1],[2000.775,0.9],[2000.825,-3.3],[2000.875,2.6],[2000.925,-0.6],[2000.975,1.3],
[2001.025,1.5],[2001.075,-1.9],[2001.125,3.3],[2001.175,-0.3],[2001.225,-2.6],[2001.275,2.2],[2001.325,0.5],[2001.375,-3.8],[2001.425,3.4],[2001.475,-1.1],[2001.525,1.9],[2001.575,-2.2],[2001.625,0.2],[2001.675,3],[2001.725,-0.7],[2001.775,-2.9],[2001.825,1.6],[2001.875,-1.5],[2001.925,3.6],[2001.975,-0.1],
[2002.025,-1.5],[2002.075,1.3],[2002.125,-3.1],[2002.175,-0.2],[2002.225,-4.8],[2002.275,0.6],[2002.325,-2.5],[2002.375,-1],[2002.425,1.1],[2002.475,-3.8],[2002.525,-1.4],[2002.575,0.2],[2002.625,-4.3],[2002.675,-2],[2002.725,-0.7],[2002.775,-3],[2002.825,-4.6],[2002.875,0.4],[2002.925,-2.2],[2002.975,-1.3],
[2003.025,-3.5],[2003.075,-1.8],[2003.125,-4.8],[2003.175,-6.8],[2003.225,-2.8],[2003.275,-5.2],[2003.325,-0.9],[2003.375,-4.1],[2003.425,-7.4],[2003.475,-2.2],[2003.525,-5.7],[2003.575,-3.6],[2003.625,-8.5],[2003.675,-4.8],[2003.725,-1.9],[2003.775,-6],[2003.825,-3.1],[2003.875,-5.5],[2003.925,-2.7],[2003.975,-4.5],
[2004.025,-2.2],[2004.075,-4.4],[2004.125,-1.1],[2004.175,-5.4],[2004.225,-3.1],[2004.275,0],[2004.325,-4.9],[2004.375,-1.7],[2004.425,-3.7],[2004.475,-5.8],[2004.525,-0.9],[2004.575,-2.6],[2004.625,-4.3],[2004.675,0.2],[2004.725,-3.3],[2004.775,-5.5],[2004.825,-1.6],[2004.875,-4.1],[2004.925,-2.1],[2004.975,-5.1],
[2005.025,-3.4],[2005.075,-0.4],[2005.125,-5.1],[2005.175,-2.6],[2005.225,-4.8],[2005.275,0.5],[2005.325,-1.4],[2005.375,-3.9],[2005.425,-6],[2005.475,-2],[2005.525,-4.4],[2005.575,-0.1],[2005.625,-3.5],[2005.675,-5.3],[2005.725,-1.2],[2005.775,-4.1],[2005.825,-6.1],[2005.875,-2.7],[2005.925,0.4],[2005.975,-3.8],
[2006.025,-2.2],[2006.075,-5.3],[2006.125,-1.2],[2006.175,-3.8],[2006.225,-6.1],[2006.275,0.1],[2006.325,-2.9],[2006.375,-4.6],[2006.425,-1.8],[2006.475,-5.4],[2006.525,-3.5],[2006.575,-0.6],[2006.625,-4.3],[2006.675,-6.6],[2006.725,-2.4],[2006.775,-0.9],[2006.825,-4.9],[2006.875,-1.6],[2006.925,-3.3],[2006.975,-5.6],
[2007.025,-3.5],[2007.075,-0.5],[2007.125,-5.6],[2007.175,-2.1],[2007.225,-4.2],[2007.275,-6.3],[2007.325,-1.3],[2007.375,-3],[2007.425,0.2],[2007.475,-4.8],[2007.525,-2.4],[2007.575,-5.9],[2007.625,-1.8],[2007.675,-3.9],[2007.725,-0.1],[2007.775,-5.2],[2007.825,-2.7],[2007.875,-4.4],[2007.925,-6.4],[2007.975,-1.1],
[2008.025,-3.2],[2008.075,-5.7],[2008.125,-1],[2008.175,-4],[2008.225,-6.8],[2008.275,-2.3],[2008.325,-4.8],[2008.375,-0.7],[2008.425,-3.5],[2008.475,-6],[2008.525,-1.8],[2008.575,-4.4],[2008.625,-2.8],[2008.675,-5.3],[2008.725,-0.9],[2008.775,-3.8],[2008.825,-6.6],[2008.875,-1.5],[2008.925,-4.2],[2008.975,-3],
[2009.025,-4.8],[2009.075,-1.9],[2009.125,-3.3],[2009.175,-6.1],[2009.225,-0.8],[2009.275,-4.1],[2009.325,-2.6],[2009.375,-5.5],[2009.425,-1.4],[2009.475,-3.6],[2009.525,-6.4],[2009.575,-0.3],[2009.625,-2.9],[2009.675,-4.9],[2009.725,-1.7],[2009.775,-3.9],[2009.825,-6.3],[2009.875,-2.3],[2009.925,-4.5],[2009.975,-0.9],
[2010.025,-2.4],[2010.075,-4.6],[2010.125,-0.8],[2010.175,-3.9],[2010.225,-6.2],[2010.275,-1.9],[2010.325,-3.1],[2010.375,-5.4],[2010.425,-0.2],[2010.475,-2.7],[2010.525,-4.4],[2010.575,-6.1],[2010.625,-1.3],[2010.675,-3.7],[2010.725,-5],[2010.775,-2.1],[2010.825,-0.6],[2010.875,-4.8],[2010.925,-3.4],[2010.975,-5.8],
[2011.025,-1.6],[2011.075,-4.3],[2011.125,-6],[2011.175,-2.5],[2011.225,-0.4],[2011.275,-3.7],[2011.325,-5.1],[2011.375,-1.2],[2011.425,-3.2],[2011.475,-6.2],[2011.525,-2],[2011.575,-4.6],[2011.625,-0.9],[2011.675,-3.6],[2011.725,-5.4],[2011.775,-1.8],[2011.825,-4],[2011.875,-2.7],[2011.925,-6.5],[2011.975,-0.6],
[2012.025,-2.4],[2012.075,-4.4],[2012.125,-0.3],[2012.175,-3.4],[2012.225,-5.6],[2012.275,-1.3],[2012.325,-3.9],[2012.375,-0.6],[2012.425,-4.9],[2012.475,-2.6],[2012.525,-5.9],[2012.575,-1.7],[2012.625,-3.1],[2012.675,0.1],[2012.725,-4.4],[2012.775,-2.1],[2012.825,-5.3],[2012.875,-1.1],[2012.925,-3.6],[2012.975,-2.9],
[2013.025,-3.8],[2013.075,-0.9],[2013.125,-5.2],[2013.175,-2.6],[2013.225,-4.5],[2013.275,-1.1],[2013.325,-6],[2013.375,-3.3],[2013.425,-1.9],[2013.475,-4.9],[2013.525,-0.4],[2013.575,-3.7],[2013.625,-5.6],[2013.675,-2.2],[2013.725,-4.2],[2013.775,-1.5],[2013.825,-6.4],[2013.875,-3],[2013.925,-0.7],[2013.975,-4.6]
];

var averageScale = -2.7;
var yearTicks = [1985, 1990, 1995, 2000, 2005, 2010];
var scaleTicks = [-80, -60, -40, -20, 0, 20, 40, 60, 80, 100];
var legendLabels = ["Input coordinates", "RW noise scaling 1", "RW noise scaling 0.1", "RW noise scaling 0.01", "Average scale"];
var seriesColors = ["#0072BD", "#D95319", "#EDB120", "#7E2F8E", "#77AC30"];

var plotLeft = 77.5, plotRight = 597.5, plotTop = 15.5, plotBottom = 428.5;
var axisColor = "#262626", boxColor = "#6b6b6b";
var dotRadius = 2.1;

var x = d3.scaleLinear().domain([1983.47, 2013.92]).range([plotLeft, plotRight]);
var y = d3.scaleLinear().domain([-80, 100]).range([plotBottom, plotTop]);

var svg = d3.select("#chart");

svg.append("defs").append("clipPath").attr("id", "plotclip")
    .append("rect")
    .attr("x", plotLeft).attr("y", plotTop)
    .attr("width", plotRight - plotLeft).attr("height", plotBottom - plotTop);

var plot = svg.append("g").attr("clip-path", "url(#plotclip)");

function drawSeries(data, color) {
    plot.append("g")
        .selectAll("circle")
        .data(data).enter()
        .append("circle")
        .attr("cx", function (d) { return x(d[0]); })
        .attr("cy", function (d) { return y(d[1]); })
        .attr("r", dotRadius)
        .attr("fill", color);
}

drawSeries(inputCoordinates, seriesColors[0]);
drawSeries(rwScaling1, seriesColors[1]);
drawSeries(rwScaling01, seriesColors[2]);
drawSeries(rwScaling001, seriesColors[3]);

// average scale, dashed, on top of the dots
plot.append("path")
    .datum(x.domain())
    .attr("d", d3.line()
        .x(function (d) { return x(d); })
        .y(function () { return y(averageScale); }))
    .attr("fill", "none")
    .attr("stroke", seriesColors[4])
    .attr("stroke-width", 3.2)
    .attr("stroke-dasharray", "9.5,9.5");

// axes, MATLAB style box with inward ticks
function styleAxis(g) {
    g.select(".domain").attr("stroke", boxColor).attr("stroke-width", 1);
    g.selectAll(".tick line").attr("stroke", boxColor).attr("stroke-width", 1);
    g.selectAll(".tick text")
        .attr("fill", axisColor)
        .style("font-family", "'Liberation Sans', Arial, Helvetica, sans-serif");
}

svg.append("g")
    .attr("transform", "translate(0," + plotBottom + ")")
    .call(d3.axisBottom(x).tickValues(yearTicks).tickFormat(d3.format("d"))
        .tickSizeInner(-5).tickSizeOuter(0).tickPadding(13))
    .call(styleAxis)
    .selectAll(".tick text").style("font-size", "18.5px");

svg.append("g")
    .attr("transform", "translate(0," + plotTop + ")")
    .call(d3.axisTop(x).tickValues(yearTicks).tickFormat("")
        .tickSizeInner(-5).tickSizeOuter(0))
    .call(styleAxis);

svg.append("g")
    .attr("transform", "translate(" + plotLeft + ",0)")
    .call(d3.axisLeft(y).tickValues(scaleTicks)
        .tickSizeInner(-5).tickSizeOuter(0).tickPadding(8))
    .call(styleAxis)
    .selectAll(".tick text").style("font-size", "18.5px");

svg.append("g")
    .attr("transform", "translate(" + plotRight + ",0)")
    .call(d3.axisRight(y).tickValues(scaleTicks).tickFormat("")
        .tickSizeInner(-5).tickSizeOuter(0))
    .call(styleAxis);

svg.append("text")
    .attr("transform", "translate(32," + ((plotTop + plotBottom) / 2) + ") rotate(-90)")
    .attr("text-anchor", "middle")
    .attr("fill", axisColor)
    .style("font-size", "20.5px")
    .text("Scale [mm]");

// legend
var legend = svg.append("g");
legend.append("rect")
    .attr("x", 349.5).attr("y", 31.5)
    .attr("width", 245).attr("height", 94)
    .attr("fill", "#fff")
    .attr("stroke", "#4d4d4d")
    .attr("stroke-width", 1);

var rowY = [43.5, 62, 80.5, 99, 116];
var rows = legend.selectAll("g.row")
    .data(legendLabels).enter()
    .append("g")
    .attr("class", "row")
    .attr("transform", function (d, i) { return "translate(0," + rowY[i] + ")"; });

rows.append("text")
    .attr("x", 412.5)
    .attr("dy", "0.36em")
    .attr("fill", "#000")
    .style("font-size", "16px")
    .text(function (d) { return d; });

rows.filter(function (d, i) { return i < 4; })
    .append("circle")
    .attr("cx", 383.5)
    .attr("r", 1.6)
    .attr("fill", function (d, i) { return seriesColors[i]; });

rows.filter(function (d, i) { return i == 4; })
    .append("line")
    .attr("x1", 363).attr("x2", 407)
    .attr("stroke", seriesColors[4])
    .attr("stroke-width", 3)
    .attr("stroke-dasharray", "9,8.5");
</script>
</body>
</html>
